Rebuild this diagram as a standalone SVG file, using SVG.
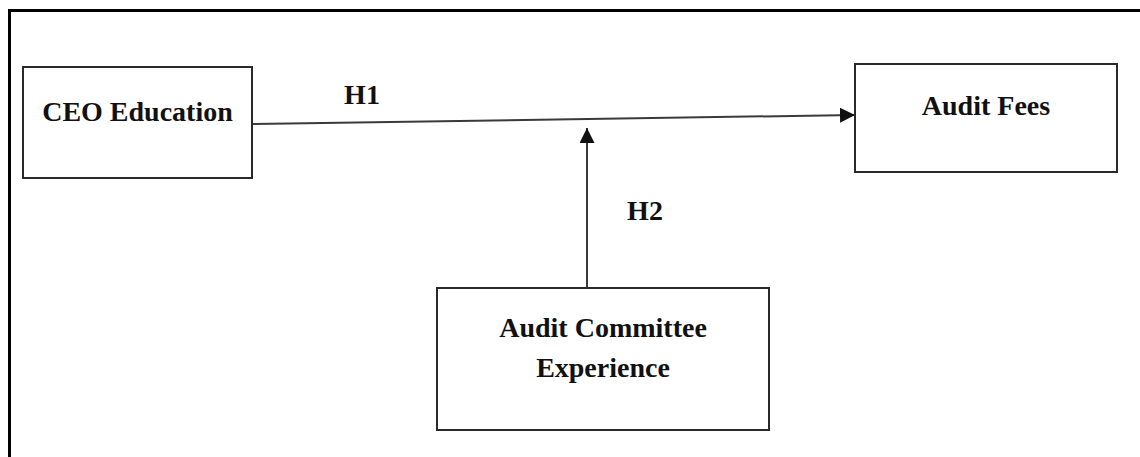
<svg xmlns="http://www.w3.org/2000/svg" width="1140" height="457" viewBox="0 0 1140 457">
<style>
.box{fill:#fff;stroke:#2a2a2a;stroke-width:2}
.t{font-family:"Liberation Serif","Times New Roman",serif;font-weight:bold;font-size:28px;fill:#111;text-anchor:middle}
.c{stroke:#3a3a3a;stroke-width:2;fill:none}
</style>
<defs>
<marker id="ah" markerWidth="15" markerHeight="15" viewBox="0 0 15 15" refX="15" refY="7.5" orient="auto" markerUnits="userSpaceOnUse">
<path d="M0,0 L15,7.5 L0,15 Z" fill="#111"/>
</marker>
</defs>
<rect width="1140" height="457" fill="#fff"/>
<path d="M9.5,457 V10.5 H1140" fill="none" stroke="#000" stroke-width="3"/>
<g id="connectors">
<line class="c" x1="252" y1="124" x2="855" y2="115" marker-end="url(#ah)"/>
<line class="c" x1="587" y1="288" x2="587" y2="128" marker-end="url(#ah)"/>
<text class="t" x="362" y="104">H1</text>
<text class="t" x="645" y="220">H2</text>
</g>
<g id="ceo">
<rect class="box" x="23" y="67" width="229" height="111"/>
<text class="t" x="137.5" y="121">CEO Education</text>
</g>
<g id="fees">
<rect class="box" x="855" y="64" width="262" height="108"/>
<text class="t" x="986" y="115">Audit Fees</text>
</g>
<g id="committee">
<rect class="box" x="437" y="288" width="332" height="142"/>
<text class="t" x="603" y="337">Audit Committee</text>
<text class="t" x="603" y="377">Experience</text>
</g>
</svg>
